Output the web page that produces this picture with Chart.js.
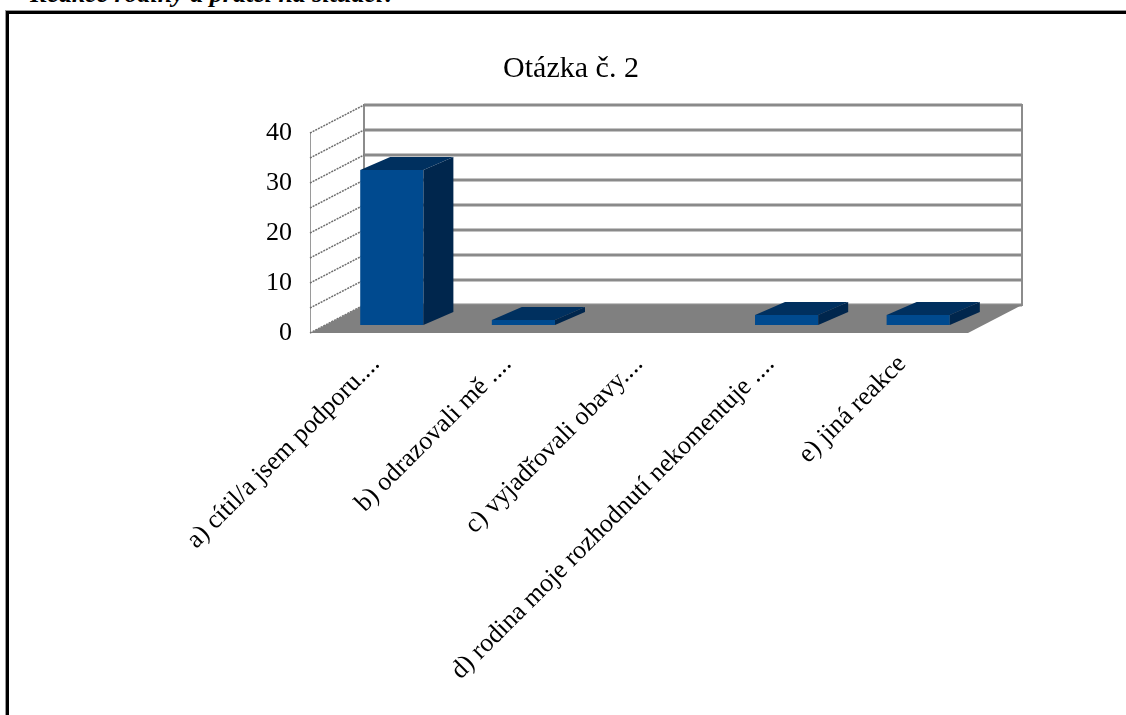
<!DOCTYPE html>
<html lang="cs">
<head>
<meta charset="utf-8">
<title>Otázka č. 2</title>
<script src="https://cdn.jsdelivr.net/npm/chart.js@4.4.1/dist/chart.umd.min.js"></script>
<style>
    html, body { margin: 0; padding: 0; background: #fff; overflow: hidden; }
    body { width: 1126px; height: 715px; position: relative; }
    /* nadpis stránky nad rámečkem - v předloze je oříznutý */
    #nadpis { position: absolute; left: 30px; top: -21px; font: italic bold 26px "Liberation Serif", serif; white-space: nowrap; color: #000; }
    #ramecek { position: absolute; left: 6px; top: 11px; width: 1200px; height: 800px; border-left: 3px solid #000; border-top: 3px solid #000; box-shadow: -1px -1px 0 #999; }
    #graf { position: absolute; left: 0; top: 0; }
</style>
</head>
<body>
<div id="nadpis">Reakce rodiny a přátel na situaci?</div>
<div id="ramecek"></div>
<canvas id="graf" width="1126" height="715"></canvas>
<script>
// data grafu
const nazevGrafu = "Otázka č. 2";
const kategorie = [
    "a) cítil/a jsem podporu....",
    "b) odrazovali mě ....",
    "c) vyjadřovali obavy....",
    "d) rodina moje rozhodnutí nekomentuje ....",
    "e) jiná reakce"
];
const odpovedi = [31, 1, 0, 2, 2];
const osaMin = 0;
const osaMax = 40;
const krokMrizky = 5;   // čáry na stěnách po 5
const krokPopisku = 10; // popisky osy po 10

// "3D" posuny vůči ploše, kde stojí sloupce
const predniRovina = { dx: -16, dy: 8 };
const zadniStena = { dx: 38, dy: -20 };
const hloubkaSloupce = { dx: 30, dy: -13 };

const pismo = '"Liberation Serif", "Times New Roman", serif';

function polygon(ctx, body, barva) {
    ctx.beginPath();
    ctx.moveTo(body[0][0], body[0][1]);
    for (let i = 1; i < body.length; i++) ctx.lineTo(body[i][0], body[i][1]);
    ctx.closePath();
    ctx.fillStyle = barva;
    ctx.fill();
}

// plugin, který kreslí stěny, podlahu a boky sloupců (imitace 3D grafu z Excelu)
const prostorovyGraf = {
    id: "prostorovyGraf",
    beforeDatasetsDraw(chart) {
        const ctx = chart.ctx;
        const osaY = chart.scales.y;
        const L = chart.chartArea.left, R = chart.chartArea.right;
        const yTop = osaY.getPixelForValue(osaMax);
        const y0 = osaY.getPixelForValue(osaMin);
        ctx.save();

        // boční stěna
        polygon(ctx, [
            [L + predniRovina.dx, yTop + predniRovina.dy],
            [L + zadniStena.dx, yTop + zadniStena.dy],
            [L + zadniStena.dx, y0 + zadniStena.dy],
            [L + predniRovina.dx, y0 + predniRovina.dy]
        ], "#fff");
        ctx.strokeStyle = "#9a9a9a";
        ctx.lineWidth = 1;
        ctx.beginPath();
        ctx.moveTo(L + predniRovina.dx + 0.5, yTop + predniRovina.dy);
        ctx.lineTo(L + predniRovina.dx + 0.5, y0 + predniRovina.dy);
        ctx.stroke();

        // zadní stěna
        ctx.fillStyle = "#fff";
        ctx.fillRect(L + zadniStena.dx, yTop + zadniStena.dy, R - L, y0 - yTop);
        ctx.strokeStyle = "#8c8c8c";
        ctx.lineWidth = 2;
        ctx.strokeRect(L + zadniStena.dx, yTop + zadniStena.dy, R - L, y0 - yTop);

        // mřížka na stěnách
        for (let v = osaMin; v <= osaMax; v += krokMrizky) {
            const y = osaY.getPixelForValue(v);
            ctx.strokeStyle = "#8a8a8a";
            ctx.lineWidth = 3;
            ctx.beginPath();
            ctx.moveTo(L + zadniStena.dx, y + zadniStena.dy);
            ctx.lineTo(R + zadniStena.dx, y + zadniStena.dy);
            ctx.stroke();
            ctx.strokeStyle = "#6e6e6e";
            ctx.lineWidth = 1.5;
            ctx.setLineDash([2, 1]);
            ctx.beginPath();
            ctx.moveTo(L + predniRovina.dx, y + predniRovina.dy);
            ctx.lineTo(L + zadniStena.dx, y + zadniStena.dy);
            ctx.stroke();
            ctx.setLineDash([]);
        }

        // podlaha
        polygon(ctx, [
            [L + predniRovina.dx, y0 + predniRovina.dy],
            [R + predniRovina.dx, y0 + predniRovina.dy],
            [R + zadniStena.dx, y0 + zadniStena.dy],
            [L + zadniStena.dx, y0 + zadniStena.dy]
        ], "#808080");

        // popisky osy Y na přední hraně
        ctx.font = "26px " + pismo;
        ctx.fillStyle = "#000";
        ctx.textAlign = "right";
        ctx.textBaseline = "middle";
        osaY.ticks.forEach((t) => {
            if (t.value % krokPopisku !== 0) return;
            ctx.fillText(String(t.value), L + predniRovina.dx - 18, osaY.getPixelForValue(t.value) + predniRovina.dy);
        });
        ctx.restore();
    },
    afterDatasetsDraw(chart) {
        const ctx = chart.ctx;
        const meta = chart.getDatasetMeta(0);
        ctx.save();
        meta.data.forEach((bar, i) => {
            if (!odpovedi[i]) return;
            const p = bar.getProps(["x", "y", "base", "width"], true);
            const l = p.x - p.width / 2, r = p.x + p.width / 2;
            const dx = hloubkaSloupce.dx, dy = hloubkaSloupce.dy;
            // horní plocha
            polygon(ctx, [[l, p.y], [r, p.y], [r + dx, p.y + dy], [l + dx, p.y + dy]], "#00305f");
            // bok
            polygon(ctx, [[r, p.y], [r + dx, p.y + dy], [r + dx, p.base + dy], [r, p.base]], "#00264d");
        });
        ctx.restore();
    },
    afterDraw(chart) {
        const ctx = chart.ctx;
        ctx.save();
        ctx.font = "30px " + pismo;
        ctx.fillStyle = "#000";
        ctx.textAlign = "center";
        ctx.textBaseline = "alphabetic";
        ctx.fillText(nazevGrafu, 571, 77);
        ctx.restore();
    }
};

new Chart(document.getElementById("graf"), {
    type: "bar",
    data: {
        labels: kategorie,
        datasets: [{
            data: odpovedi,
            backgroundColor: "#004a8f",
            borderWidth: 0,
            categoryPercentage: 1,
            barPercentage: 0.48
        }]
    },
    options: {
        responsive: false,
        animation: false,
        devicePixelRatio: 1,
        layout: { padding: { left: 266, right: 142, top: 125, bottom: 0 } },
        plugins: {
            legend: { display: false },
            title: { display: false },
            tooltip: { enabled: false }
        },
        scales: {
            x: {
                grid: { display: false },
                border: { display: false },
                afterFit: (s) => { s.height = 390; },
                ticks: {
                    autoSkip: false,
                    minRotation: 45,
                    maxRotation: 45,
                    labelOffset: -16,
                    padding: 16,
                    color: "#000",
                    font: { family: pismo, size: 26 }
                }
            },
            y: {
                min: osaMin,
                max: osaMax,
                grid: { display: false },
                border: { display: false },
                afterFit: (s) => { s.width = 60; },
                ticks: {
                    display: false,
                    stepSize: krokMrizky
                }
            }
        }
    },
    plugins: [prostorovyGraf]
});
</script>
</body>
</html>
